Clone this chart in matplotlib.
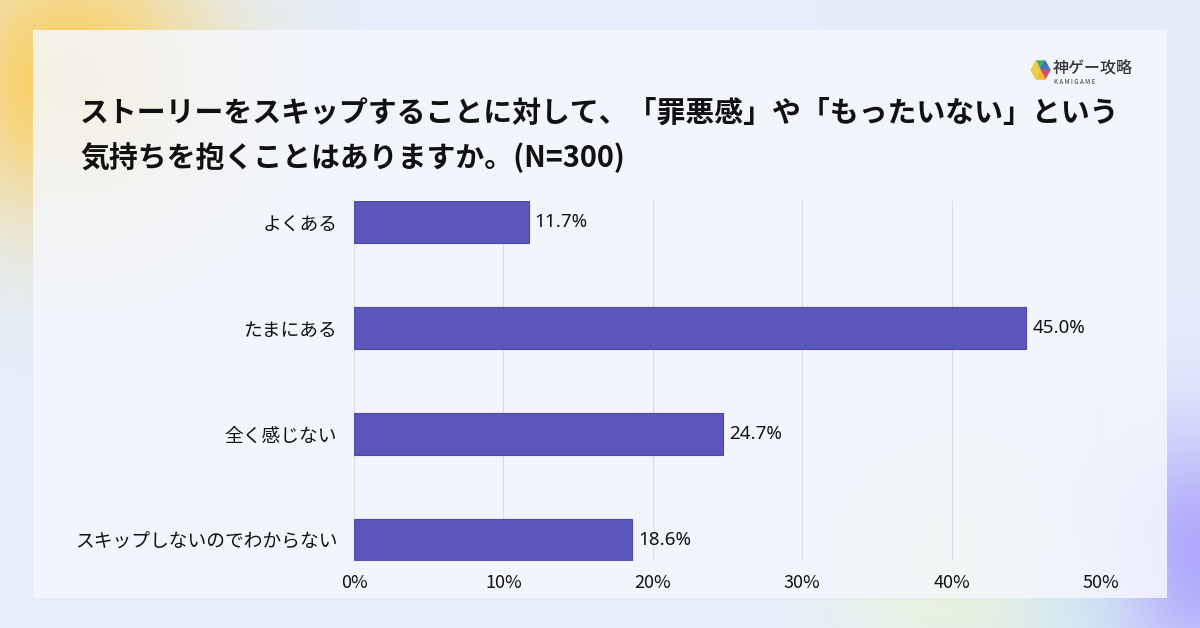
import numpy as np
import matplotlib
matplotlib.use("Agg")
import matplotlib.pyplot as plt
from matplotlib.patches import Rectangle, Polygon

plt.rcParams['font.family'] = ['Noto Sans CJK JP', 'DejaVu Sans']

categories = ["よくある", "たまにある", "全く感じない", "スキップしないのでわからない"]
values = [11.7, 45.0, 24.7, 18.6]
xticks = [0, 10, 20, 30, 40, 50]
xtick_labels = ["0%", "10%", "20%", "30%", "40%", "50%"]
title = "ストーリーをスキップすることに対して、「罪悪感」や「もったいない」という\n気持ちを抱くことはありますか。(N=300)"

W, H = 1200, 628
fig = plt.figure(figsize=(W / 100, H / 100), dpi=100)

# background with soft blobs
bg = fig.add_axes([0, 0, 1, 1])
bg.set_axis_off()
yy, xx = np.mgrid[0:H, 0:W]
img = np.ones((H, W, 3)) * np.array([228, 238, 250]) / 255.0
def blob(cx, cy, r, color, strength):
    global img
    d = np.exp(-(((xx - cx) ** 2 + (yy - cy) ** 2) / (2 * r ** 2))) * strength
    img = img * (1 - d[..., None]) + np.array(color)[None, None, :] / 255.0 * d[..., None]
blob(70, 80, 100, (252, 205, 90), 0.95)
blob(1195, 560, 90, (170, 160, 252), 0.95)
blob(960, 560, 80, (235, 245, 200), 0.7)
blob(1080, 610, 60, (210, 240, 245), 0.5)
img = np.clip(img, 0, 1)
bg.imshow(img, extent=[0, W, H, 0], aspect='auto')
bg.set_xlim(0, W)
bg.set_ylim(H, 0)
bg.add_patch(Rectangle((33, 30), 1134, 568, facecolor='#f5f7fd', edgecolor='none', alpha=0.85))

# logo
cx, cy = 1040, 70
bg.add_patch(Polygon([(cx, cy), (cx - 4, cy - 9), (cx + 5, cy - 9)], closed=True, color='#3fae6e'))
bg.add_patch(Polygon([(cx, cy), (cx + 5, cy - 9), (cx + 10, cy)], closed=True, color='#3f78c8'))
bg.add_patch(Polygon([(cx, cy), (cx + 10, cy), (cx + 5, cy + 9)], closed=True, color='#d64d6a'))
bg.add_patch(Polygon([(cx, cy), (cx + 5, cy + 9), (cx - 4, cy + 9)], closed=True, color='#f2b632'))
bg.add_patch(Polygon([(cx, cy), (cx - 4, cy + 9), (cx - 9, cy), (cx - 4, cy - 9)], closed=True, color='#e8d048'))
bg.text(1053, 68, "神ゲー攻略", fontsize=11.5, color='#333333', va='center', ha='left', fontweight='medium')
bg.text(1054, 82, "K A M I G A M E", fontsize=4.5, color='#333333', va='center', ha='left')

# title
fig.text(80 / W, 1 - 98 / H, title, fontsize=20.8, fontweight='bold', color='#111111',
         va='top', ha='left', linespacing=1.55)

# chart axes
left, right, top, bottom = 354, 1101, 201, 561
ax = fig.add_axes([left / W, 1 - bottom / H, (right - left) / W, (bottom - top) / H])
ax.patch.set_alpha(0)
pos = np.arange(len(categories))
bars = ax.barh(pos, values, height=0.4, color='#5a56bb', edgecolor='#4e4aa8', linewidth=0.8, zorder=3)
ax.set_ylim(3.2, -0.2)
ax.set_xlim(0, 50)
ax.set_xticks(xticks)
ax.set_xticklabels(xtick_labels, fontsize=13, color='#111111')
ax.set_yticks(pos)
ax.set_yticklabels(categories, fontsize=13.5, color='#111111')
ax.tick_params(axis='both', length=0)
ax.tick_params(axis='x', pad=9)
ax.tick_params(axis='y', pad=12)
for s in ax.spines.values():
    s.set_visible(False)
ax.grid(axis='x', color='#dcdde6', linewidth=0.9, zorder=0)
ax.set_axisbelow(True)
for b, v in zip(bars, values):
    ax.text(v + 0.4, b.get_y() + b.get_height() / 2, f"{v:.1f}%", va='center', ha='left',
            fontsize=13.5, color='#111111', family=['Noto Sans', 'DejaVu Sans'])

fig.savefig("out.png", dpi=100)
